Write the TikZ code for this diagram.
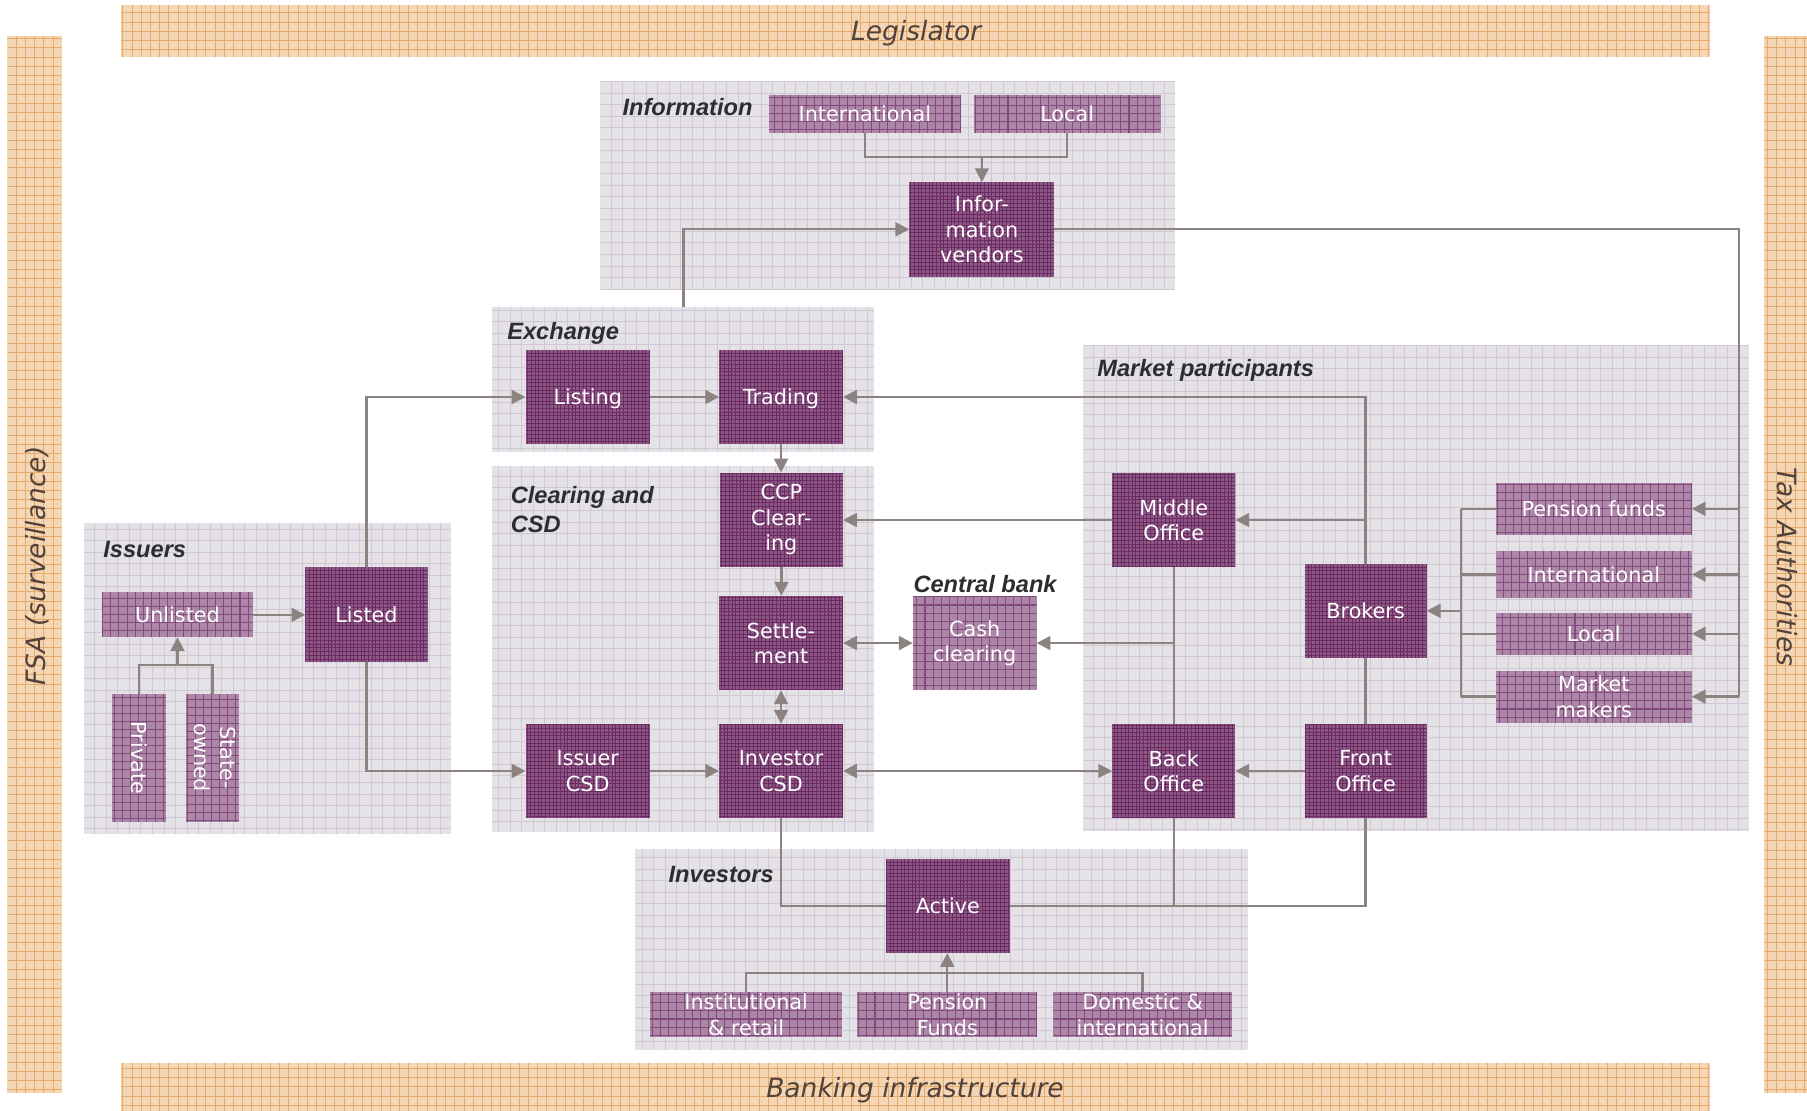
\documentclass[tikz,border=0pt]{standalone}
\usepackage{fontspec}
\setmainfont{DejaVu Sans}[ItalicFont={DejaVu Sans Oblique},BoldFont={DejaVu Sans Bold}]
\newfontfamily\hdfont{Liberation Sans}
\usepackage{graphicx}
\usetikzlibrary{arrows.meta}

\definecolor{panelbg}{RGB}{229,226,231}
\definecolor{panelln}{RGB}{208,201,211}
\definecolor{barbg}{RGB}{244,213,180}
\definecolor{barln}{RGB}{232,170,106}
\definecolor{bartext}{RGB}{82,66,58}
\definecolor{darkbg}{RGB}{140,88,132}
\definecolor{darkln}{RGB}{108,42,101}
\definecolor{lightbg}{RGB}{172,134,166}
\definecolor{lightln}{RGB}{132,74,126}
\definecolor{connc}{RGB}{140,130,128}
\definecolor{headc}{RGB}{45,45,48}

% box placed by its corners: style, name, x1, y1, x2, y2, text
\newcommand\mkbox[7]{%
  \pgfmathsetmacro\bcx{(#3+#5)/2}\pgfmathsetmacro\bcy{(#4+#6)/2}%
  \pgfmathsetmacro\bw{#5-#3}\pgfmathsetmacro\bh{#6-#4}%
  \node[#1, minimum width=\bw pt, minimum height=\bh pt] (#2) at (\bcx,\bcy) {#7};}

\tikzset{
  gridded/.style 2 args={path picture={\draw[#1]
      (path picture bounding box.south west) grid[step=#2]
      (path picture bounding box.north east);}},
  panel/.style={rectangle, inner sep=0pt, outer sep=0pt, fill=panelbg,
      gridded={panelln, line width=0.7pt}{10pt}},
  band/.style={rectangle, inner sep=0pt, outer sep=0pt, fill=barbg,
      gridded={barln, line width=0.6pt}{8pt}},
  bandtext/.style={inner sep=0pt, font=\itshape\fontsize{23}{27}\selectfont, text=bartext},
  darkbox/.style={rectangle, inner sep=0pt, outer sep=0pt, fill=darkbg,
      gridded={darkln, line width=0.8pt}{3.2pt},
      text=white, align=center, font=\fontsize{18}{22}\selectfont},
  lightbox/.style={rectangle, inner sep=0pt, outer sep=0pt, fill=lightbg,
      gridded={lightln, line width=0.9pt}{7pt},
      text=white, align=center, font=\fontsize{18}{22}\selectfont},
  oneline/.style={text depth=0pt},
  head/.style={inner sep=0pt, anchor=west, align=left, text=headc,
      font=\hdfont\bfseries\itshape\fontsize{20.5}{25}\selectfont},
  conn/.style={draw=connc, line width=2pt},
  arr/.style={conn, -{Triangle[length=12pt,width=12pt]}},
  darr/.style={conn, {Triangle[length=12pt,width=12pt]}-{Triangle[length=12pt,width=12pt]}},
}

\begin{document}
\begin{tikzpicture}[x=1pt,y=-1pt]
\useasboundingbox (0,0) rectangle (1568,964);
\fill[white] (0,0) rectangle (1568,964);

% outer bands
\mkbox{band}{leg}{105}{4.5}{1484}{49.5}{}
\mkbox{band}{bank}{105}{922}{1484}{964}{}
\mkbox{band}{fsa}{6.5}{31}{53.5}{948}{}
\mkbox{band}{tax}{1531}{31}{1568}{948}{}
\node[bandtext, anchor=base] (legtxt) at (795,35.5) {Legislator};
\node[bandtext, anchor=base] (banktxt) at (794,952.5) {Banking infrastructure};
\node[bandtext, rotate=90] (fsatxt) at (32.5,491) {FSA (surveillance)};
\node[bandtext, rotate=-90] (taxtxt) at (1551,492) {Tax Authorities};

% group panels
\mkbox{panel}{pinfo}{521}{70.5}{1020}{251}{}
\mkbox{panel}{pexch}{426.5}{266}{758.5}{392}{}
\mkbox{panel}{pclear}{426.5}{404}{758.5}{722}{}
\mkbox{panel}{pissu}{73}{454}{391.5}{724}{}
\mkbox{panel}{pmkt}{940}{299}{1517.5}{721}{}
\mkbox{panel}{pinv}{551}{737}{1083}{911}{}

% group headings
\node[head] (hinfo) at (540,92.5) {Information};
\node[head] (hexch) at (440,289) {Exchange};
\node[head] (hclear) at (443,442) {Clearing and\\CSD};
\node[head] (hissu) at (89.5,476.5) {Issuers};
\node[head] (hmkt) at (952,321.5) {Market participants};
\node[head] (hcb) at (792.5,507) {Central bank};
\node[head] (hinv) at (580,758.5) {Investors};

% information
\mkbox{lightbox,oneline}{intl}{667}{82}{834}{115}{International}
\mkbox{lightbox,oneline}{loc}{845}{82}{1007}{115}{Local}
\mkbox{darkbox}{vend}{789}{158}{915}{240}{Infor-\\mation\\vendors}

% exchange, clearing and CSD, central bank
\mkbox{darkbox,oneline}{listing}{456}{304}{564}{385}{Listing}
\mkbox{darkbox,oneline}{trading}{624}{304}{731.5}{385}{Trading}
\mkbox{darkbox}{ccp}{624.5}{410}{731.5}{492}{CCP\\Clear-\\ing}
\mkbox{darkbox}{settle}{624}{517}{731.5}{599}{Settle-\\ment}
\mkbox{lightbox}{cash}{792}{517}{899.5}{599}{Cash\\clearing}
\mkbox{darkbox}{isscsd}{456}{628}{564}{710}{Issuer\\CSD}
\mkbox{darkbox}{invcsd}{624}{628}{731.5}{710}{Investor\\CSD}

% issuers
\mkbox{lightbox,oneline}{unlisted}{88.5}{514}{219.5}{553}{Unlisted}
\mkbox{darkbox,oneline}{listed}{265}{492}{371}{574}{Listed}
\mkbox{lightbox}{private}{97}{602}{144}{713}{\rotatebox{-90}{Private}}
\mkbox{lightbox}{state}{161.5}{602}{207.5}{713}{\rotatebox{-90}{\begin{tabular}{@{}c@{}}State-\\owned\end{tabular}}}

% market participants
\mkbox{darkbox}{middle}{965}{410.5}{1072}{492}{Middle\\Office}
\mkbox{darkbox,oneline}{brokers}{1132}{489}{1238}{571}{Brokers}
\mkbox{darkbox}{back}{965}{628}{1072}{710}{Back\\Office}
\mkbox{darkbox}{front}{1132}{628}{1238}{710}{Front\\Office}
\mkbox{lightbox,oneline}{pension}{1298}{419}{1468}{464}{Pension funds}
\mkbox{lightbox,oneline}{mintl}{1298}{478}{1468}{519}{International}
\mkbox{lightbox,oneline}{mlocal}{1298}{532}{1468}{568}{Local}
\mkbox{lightbox}{makers}{1298}{582}{1468}{627}{Market\\makers}

% investors
\mkbox{darkbox,oneline}{active}{769}{745}{876}{827}{Active}
\mkbox{lightbox}{instret}{564}{861}{731}{900}{Institutional\\\& retail}
\mkbox{lightbox}{penf}{744}{861}{900}{900}{Pension\\Funds}
\mkbox{lightbox}{domint}{914}{861}{1069}{900}{Domestic \&\\international}

% junction points
\path (vend.north) ++(0,-21.5) coordinate (vj);
\coordinate (extop) at (593,266);
\coordinate (rbus) at (1509,604.5);
\coordinate (lbus) at (1268,530);
\coordinate (pj) at (154,577);
\coordinate (aj) at (822,844);

% information flows
\draw[conn] (intl.south) |- (vj) -| (loc.south);
\draw[arr] (vj) -- (vend.north);
\draw[arr] (extop) |- (vend.west);
\draw[conn] (vend.east) -| (rbus);
\foreach \n in {pension,mintl,mlocal,makers}
  \draw[arr] (rbus |- \n.east) -- (\n.east);

% market participants
\foreach \n in {pension,mintl,mlocal,makers}
  \draw[conn] (\n.west) -- (lbus |- \n.west);
\draw[conn] (lbus |- pension.west) -- (lbus |- makers.west);
\draw[arr] (lbus) -- (brokers.east);
\draw[arr] (brokers.north) |- (trading.east);
\draw[arr] (brokers.north |- middle.east) -- (middle.east);
\draw[arr] (middle.west) -- (middle.west -| ccp.east);
\draw[conn] (middle.south) -- (back.north);
\draw[arr] (middle.south |- cash.east) -- (cash.east);
\draw[conn] (brokers.south) -- (front.north);
\draw[arr] (front.west) -- (back.east);
\draw[darr] (invcsd.east) -- (back.west);

% exchange and clearing
\draw[arr] (listing.east) -- (trading.west);
\draw[arr] (trading.south) -- (trading.south |- ccp.north);
\draw[arr] (ccp.south) -- (ccp.south |- settle.north);
\draw[darr] (settle.east) -- (cash.west);
\draw[darr] (settle.south) -- (settle.south |- invcsd.north);
\draw[arr] (isscsd.east) -- (invcsd.west);

% issuers
\draw[arr] (listed.north) |- (listing.west);
\draw[arr] (listed.south) |- (isscsd.west);
\draw[arr] (unlisted.east) -- (unlisted.east -| listed.west);
\draw[conn] (private.north) |- (pj) -| (state.north);
\draw[arr] (pj) -- (unlisted.south);

% investors
\draw[conn] (invcsd.south) |- (active.west);
\draw[conn] (active.east) -| (front.south);
\draw[conn] (back.south) -- (back.south |- active.east);
\draw[conn] (instret.north) |- (aj) -| (domint.north);
\draw[arr] (penf.north) -- (penf.north |- active.south);
\end{tikzpicture}
\end{document}
